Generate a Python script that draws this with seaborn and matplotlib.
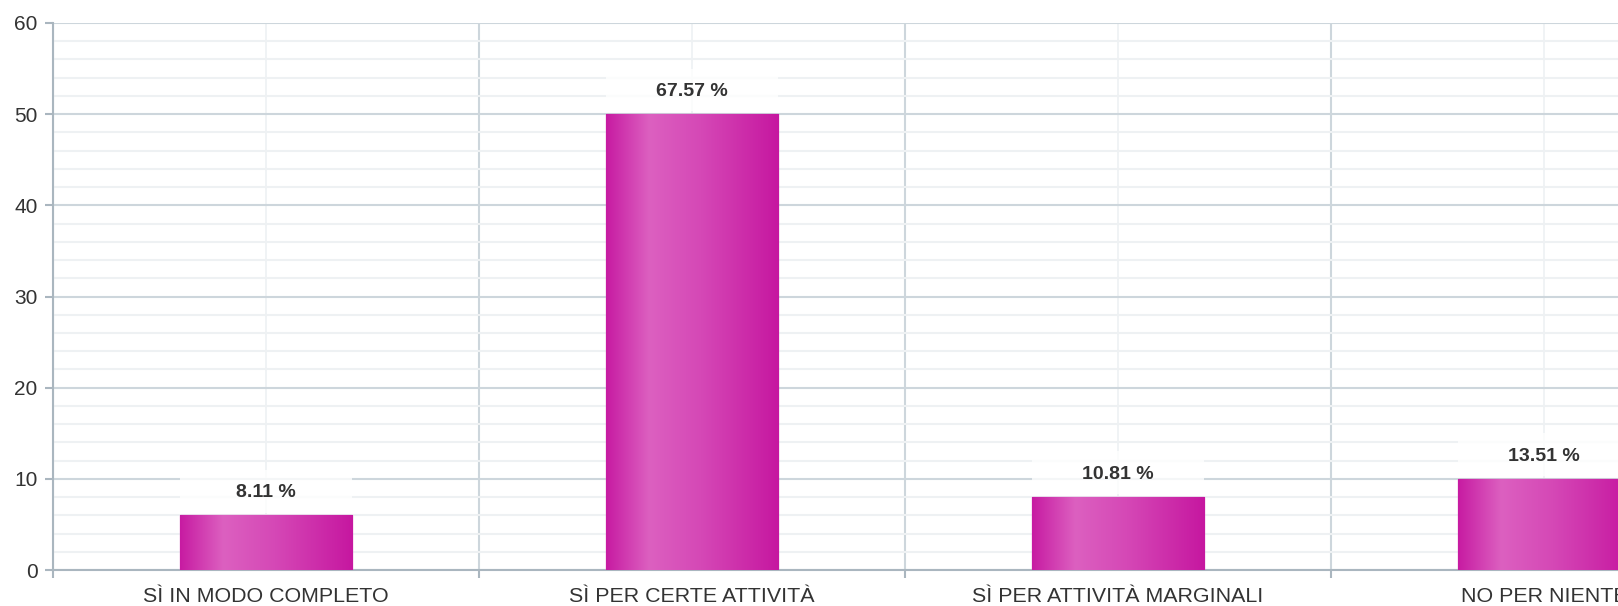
import numpy as np
import pandas as pd
import seaborn as sns
from matplotlib import pyplot as plt
from matplotlib.colors import LinearSegmentedColormap
from matplotlib.patches import Rectangle
from matplotlib.ticker import MultipleLocator

categories = ["SÌ IN MODO COMPLETO", "SÌ PER CERTE ATTIVITÀ", "SÌ PER ATTIVITÀ MARGINALI", "NO PER NIENTE"]
counts = [6, 50, 8, 10]
percent_labels = ["8.11 %", "67.57 %", "10.81 %", "13.51 %"]

sns.set_style("white")
plt.rcParams["font.family"] = ["Liberation Sans", "DejaVu Sans"]

major_grid = "#cdd6dc"
minor_grid = "#eef1f3"
axis_col = "#aab6bf"
text_col = "#333333"

fig = plt.figure(figsize=(16.18, 6.06), dpi=100)
# the plot area runs past the right edge, last category gets cut off
ax = fig.add_axes([53 / 1618, 36 / 606, (1757 - 53) / 1618, (570 - 23) / 606])

df = pd.DataFrame({"cat": categories, "n": counts})
sns.barplot(df, x="cat", y="n", ax=ax, width=0.405, color="#c81ca3", saturation=1,
            edgecolor="#d877c6", linewidth=1, zorder=3)

# metallic gradient on each bar
grad = LinearSegmentedColormap.from_list(
    "bar", [(0, "#c71ba2"), (0.25, "#dc60c0"), (0.55, "#d548b6"), (1, "#c617a0")])
g = np.linspace(0, 1, 256).reshape(1, -1)
for p in ax.patches:
    x0, y0, w, h = p.get_x(), p.get_y(), p.get_width(), p.get_height()
    im = ax.imshow(g, cmap=grad, aspect="auto", extent=[x0, x0 + w, y0, y0 + h], zorder=3.5)
    im.set_clip_path(p)

# value labels with a soft white box behind them
for i, (c, lab) in enumerate(zip(counts, percent_labels)):
    ax.add_patch(Rectangle((i - 0.2025, c + 0.3), 0.405, 4.7, facecolor="white", alpha=0.8,
                           edgecolor="none", zorder=2.5))
    ax.text(i, c + 2.5, lab, ha="center", va="center", fontsize=14, fontweight="bold",
            color=text_col, zorder=4)

ax.set_xlim(-0.5, 3.5)
ax.set_ylim(0, 60)
ax.yaxis.set_major_locator(MultipleLocator(10))
ax.yaxis.set_minor_locator(MultipleLocator(2))
ax.set_xticks(range(len(categories)))
ax.set_xticks(np.arange(-0.5, 3.6, 1), minor=True)

ax.xaxis.grid(True, which="major", color=minor_grid, linewidth=1.2, zorder=0)
ax.xaxis.grid(True, which="minor", color=major_grid, linewidth=1.5, zorder=0)
ax.yaxis.grid(True, which="minor", color=minor_grid, linewidth=1.5, zorder=0)
ax.yaxis.grid(True, which="major", color=major_grid, linewidth=1.5, zorder=0)
ax.set_axisbelow(True)

for s in ["top", "right"]:
    ax.spines[s].set_visible(False)
for s in ["left", "bottom"]:
    ax.spines[s].set_color(axis_col)
    ax.spines[s].set_linewidth(1.5)

ax.tick_params(axis="y", which="major", left=True, length=6, width=1.5, color=axis_col,
               labelsize=15, labelcolor=text_col, pad=5)
ax.tick_params(axis="y", which="minor", left=False)
ax.tick_params(axis="x", which="major", bottom=False, length=0, labelsize=15.4,
               labelcolor=text_col, pad=12)
ax.tick_params(axis="x", which="minor", bottom=True, length=6, width=1.5, color=axis_col)

ax.set_xlabel("")
ax.set_ylabel("")

plt.savefig("out.png", dpi=100)
